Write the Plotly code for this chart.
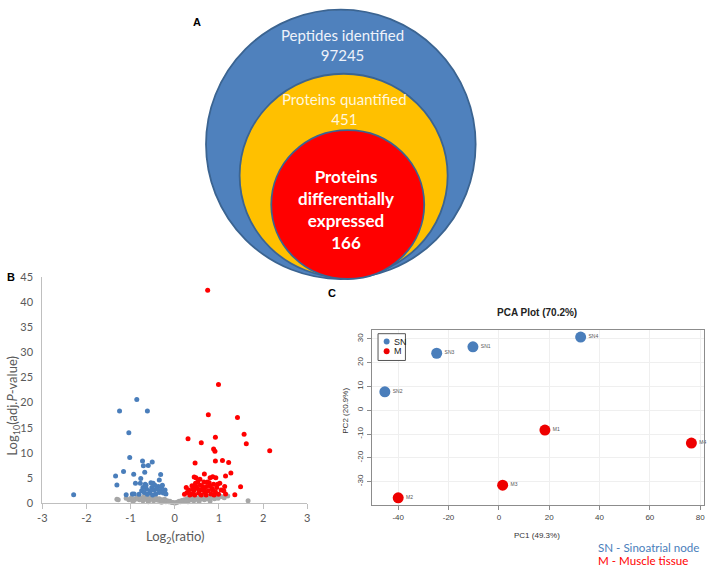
import plotly.graph_objects as go

W, H = 709, 572

# ---------------- data ----------------
venn_labels = ["Peptides identified", "Proteins quantified", "Proteins<br>differentially<br>expressed"]
venn_counts = [97245, 451, 166]

volcano_xticks = [-3, -2, -1, 0, 1, 2, 3]
volcano_xticktext = ["-3", "-2", "-1", "0", "1", "2", "3"]
volcano_yticks = [0, 5, 10, 15, 20, 25, 30, 35, 40, 45]

gray_x = [-1.31, -1.28, -1.10, -1.04, -0.98, -0.95, -0.92, -0.88, -0.84, -0.80,
          -0.76, -0.72, -0.70, -0.66, -0.62, -0.60, -0.58, -0.55, -0.52, -0.48,
          -0.45, -0.42, -0.38, -0.35, -0.32, -0.30, -0.29, -0.26, -0.23, -0.20,
          -0.17, -0.14, -0.11, -0.08, -0.05, -0.02, 0.01, 0.04, 0.07, 0.10,
          0.13, 0.16, 0.19, 0.22, 0.25, 0.28, 0.30, 0.31, 0.34, 0.37,
          0.40, 0.43, 0.46, 0.49, 0.52, 0.55, 0.55, 0.58, 0.61, 0.64,
          0.67, 0.70, 0.73, 0.76, 0.79, 0.80, 0.82, 0.86, 0.90, 0.94,
          0.98, 1.05, 1.12, 1.20, 1.66]
gray_y = [0.8, 0.7, 1.0, 0.7, 1.1, 0.4, 0.6, 0.9, 1.2, 0.7,
          1.0, 0.5, 1.3, 0.8, 1.1, 0.3, 0.6, 0.9, 1.2, 0.5,
          0.8, 1.0, 0.6, 0.9, 0.4, 0.2, 0.7, 0.5, 0.8, 0.3,
          0.5, 0.3, 0.4, 0.2, 0.15, 0.1, 0.05, 0.15, 0.25, 0.4,
          0.3, 0.55, 0.45, 0.7, 0.5, 0.9, 0.3, 0.6, 1.1, 0.7,
          1.0, 0.5, 1.2, 0.8, 1.0, 0.6, 0.35, 1.3, 0.9, 1.1,
          0.7, 1.2, 0.9, 1.3, 0.8, 0.45, 1.1, 1.4, 0.9, 1.2,
          1.0, 1.3, 1.1, 1.4, 0.5]

blue_x = [-2.29, -1.25, -0.86, -0.62, -1.04, -1.02, -0.73, -0.51, -0.71, -0.60,
          -1.16, -0.93, -0.68, -0.32, -1.34, -1.31, -0.77, -0.78, -0.89, -0.65,
          -0.54, -0.49, -0.35, -1.10, -0.96, -0.92, -0.75, -0.69, -0.64, -0.57,
          -0.52, -0.47, -0.43, -0.37, -0.32, -0.26, -0.22, -0.30, -0.41, -0.50,
          -0.62, -0.81, -0.72, -0.45, -0.35, -0.20, -0.67, -0.56, -0.28]
blue_y = [1.69, 18.3, 20.6, 18.3, 14.0, 9.07, 8.4, 8.2, 7.45, 7.5,
          6.3, 5.77, 6.15, 5.7, 5.38, 3.63, 4.9, 3.96, 3.96, 3.57,
          4.08, 3.96, 4.6, 1.69, 1.82, 1.82, 2.47, 2.14, 2.8, 2.02,
          3.1, 2.6, 1.82, 3.3, 2.47, 2.02, 2.6, 3.1, 2.8, 1.63,
          1.75, 1.75, 3.1, 3.57, 2.14, 1.82, 3.77, 2.47, 3.57]

red_x = [0.745, 0.99, 0.76, 1.42, 0.30, 0.60, 0.92, 1.57, 1.62, 0.88,
         0.91, 2.15, 0.46, 0.92, 1.08, 1.22, 1.27, 1.15, 0.67, 0.44,
         1.49, 1.36, 1.13, 1.11, 1.15, 0.86, 0.93, 0.80, 0.48, 0.57,
         0.26, 0.28, 0.32, 0.37, 0.39, 0.43, 0.47, 0.51, 0.54, 0.58,
         0.62, 0.66, 0.68, 0.72, 0.76, 0.78, 0.82, 0.84, 0.88, 0.92,
         0.95, 0.99, 1.02, 1.05, 0.22, 0.34, 0.45, 0.60, 0.71, 0.89,
         0.48, 0.63, 0.80, 0.67, 0.56, 0.41, 0.86, 0.97, 0.74, 0.52]
red_y = [42.3, 23.6, 17.55, 17.0, 12.8, 12.0, 13.1, 13.7, 11.8, 10.75,
         10.3, 10.4, 7.96, 8.4, 8.5, 8.1, 6.0, 5.4, 5.8, 5.2,
         3.24, 1.69, 3.3, 2.47, 1.82, 5.24, 5.05, 5.05, 5.05, 4.73,
         3.1, 2.14, 2.6, 1.82, 3.44, 2.47, 3.96, 2.91, 2.02, 3.57,
         2.6, 4.21, 2.14, 3.3, 2.47, 4.08, 1.82, 2.91, 3.77, 2.27,
         3.1, 1.75, 3.96, 2.6, 1.75, 1.63, 1.63, 1.63, 1.63, 1.63,
         3.3, 3.3, 3.44, 2.8, 2.6, 2.8, 2.6, 3.77, 4.21, 4.21]

pca_sn_names = ["SN1", "SN2", "SN3", "SN4"]
pca_sn_pc1 = [-10.3, -45.3, -24.7, 32.5]
pca_sn_pc2 = [26.7, 7.8, 24.0, 30.8]
pca_m_names = ["M1", "M2", "M3", "M4"]
pca_m_pc1 = [18.3, -40.0, 1.5, 76.5]
pca_m_pc2 = [-8.3, -36.8, -31.5, -13.8]
pca_xticks = [-40, -20, 0, 20, 40, 60, 80]
pca_xticktext = ["-40", "-20", "0", "20", "40", "60", "80"]
pca_yticks = [-30, -20, -10, 0, 10, 20, 30]
pca_yticktext = ["-30", "-20", "-10", "0", "10", "20", "30"]

# ---------------- helpers ----------------
def px(x):
    return x / W

def py(y):
    return 1 - y / H

BLUE = "#4a7ebb"
RED = "#ff0000"
GRAY = "#a6a6a6"
PCA_BLUE = "#4a7ebb"
PCA_RED = "#ee0000"
CAL = "Lato"
ARIAL = "Liberation Sans"

fig = go.Figure()

# volcano
for xs, ys, col in [(gray_x, gray_y, GRAY), (blue_x, blue_y, BLUE), (red_x, red_y, RED)]:
    fig.add_trace(go.Scatter(x=xs, y=ys, mode="markers", xaxis="x", yaxis="y",
                             marker=dict(size=5, color=col, line=dict(width=0)),
                             cliponaxis=False, showlegend=False, hoverinfo="skip"))

# PCA
for names, xs, ys, col in [(pca_sn_names, pca_sn_pc1, pca_sn_pc2, PCA_BLUE),
                           (pca_m_names, pca_m_pc1, pca_m_pc2, PCA_RED)]:
    fig.add_trace(go.Scatter(x=xs, y=ys, text=names, mode="markers+text", xaxis="x2", yaxis="y2",
                             textposition="middle right",
                             textfont=dict(size=5, color="#555555", family=ARIAL),
                             marker=dict(size=11, color=col, line=dict(width=0)),
                             cliponaxis=False, showlegend=False, hoverinfo="skip"))

# invisible trace so the venn axis exists
fig.add_trace(go.Scatter(x=[0], y=[0], xaxis="x3", yaxis="y3", mode="markers",
                         marker=dict(size=1, opacity=0), showlegend=False, hoverinfo="skip"))

tick_font_v = dict(family=CAL, size=11, color="#595959")
tick_font_p = dict(family=ARIAL, size=8, color="#444444")

fig.update_layout(
    width=W, height=H, margin=dict(l=0, r=0, t=0, b=0),
    paper_bgcolor="white", plot_bgcolor="rgba(0,0,0,0)", showlegend=False,
    xaxis=dict(domain=[px(37.7), px(305.7)], range=[-3, 3], tickvals=volcano_xticks,
               ticktext=volcano_xticktext,
               showline=True, linecolor="#bfbfbf", linewidth=1, ticks="outside", ticklen=5,
               tickcolor="#bfbfbf", showgrid=False, zeroline=False, tickfont=tick_font_v,
               anchor="y", fixedrange=True),
    yaxis=dict(domain=[py(507.7), py(276)], range=[0, 45], tickvals=volcano_yticks,
               showline=True, linecolor="#bfbfbf", linewidth=1, ticks="",
               showgrid=False, zeroline=False, tickfont=tick_font_v, ticklabelstandoff=6,
               anchor="x", fixedrange=True),
    xaxis2=dict(domain=[px(370.7), px(706.7)], range=[-50.6, 81.4], tickvals=pca_xticks,
                ticktext=pca_xticktext,
                showline=True, mirror=True, linecolor="#8c8c8c", linewidth=1, ticks="outside",
                ticklen=4, tickcolor="#8c8c8c", showgrid=True, gridcolor="#efefef", zeroline=False,
                tickfont=tick_font_p, anchor="y2", fixedrange=True),
    yaxis2=dict(domain=[py(510), py(330.7)], range=[-40, 33.7], tickvals=pca_yticks,
                ticktext=pca_yticktext,
                showline=True, mirror=True, linecolor="#8c8c8c", linewidth=1, ticks="outside",
                ticklen=4, tickcolor="#8c8c8c", showgrid=True, gridcolor="#efefef", zeroline=False,
                tickfont=tick_font_p, tickangle=-90, anchor="x2", fixedrange=True),
    xaxis3=dict(domain=[0, 1], range=[0, W], visible=False, anchor="y3", fixedrange=True),
    yaxis3=dict(domain=[py(286), 1], range=[286, 0], visible=False, anchor="x3", fixedrange=True),
)

# Venn circles (geometry in pixel units of the venn axis)
venn_geom = [
    dict(x0=203.3, x1=476.0, y0=2.7, y1=278.3, fill="#4f81bd"),
    dict(x0=237.3, x1=447.7, y0=68.3, y1=276.7, fill="#ffc000"),
    dict(x0=269.3, x1=424.0, y0=126.0, y1=278.3, fill="#ff0000"),
]
for g in venn_geom:
    fig.add_shape(type="circle", xref="x3", yref="y3", x0=g["x0"], x1=g["x1"], y0=g["y0"], y1=g["y1"],
                  fillcolor=g["fill"], line=dict(color="#3b6491", width=1.8))

ann = []
ann.append(dict(x=341, y=39.3, xref="x3", yref="y3",
                text=f"{venn_labels[0]}<br>{venn_counts[0]}",
                font=dict(family=CAL, size=15, color="#eef2fa")))
ann.append(dict(x=343, y=104.7, xref="x3", yref="y3",
                text=f"{venn_labels[1]}<br>{venn_counts[1]}",
                font=dict(family=CAL, size=15, color="#fff6dc")))
ann.append(dict(x=345, y=207.2, xref="x3", yref="y3",
                text=f"<b>{venn_labels[2]}<br>{venn_counts[2]}</b>",
                font=dict(family=CAL, size=17, color="white")))

# panel letters
for lab, x, y in [("A", 194.3, 15), ("B", 6, 276), ("C", 331, 293)]:
    ann.append(dict(x=px(x), y=py(y), xref="paper", yref="paper", text=f"<b>{lab}</b>",
                    font=dict(family=ARIAL, size=11, color="black")))

# volcano axis titles
ann.append(dict(x=px(171.7), y=py(542), xref="paper", yref="paper",
                text="Log<sub>2</sub>(ratio)", font=dict(family=CAL, size=13, color="#595959")))
ann.append(dict(x=px(8), y=py(408), xref="paper", yref="paper", textangle=-90,
                text="Log<sub>10</sub>(adj.<i>P</i>-value)", font=dict(family=CAL, size=13, color="#595959")))

# PCA title and axis titles
ann.append(dict(x=px(538.5), y=py(312.7), xref="paper", yref="paper",
                text="<b>PCA Plot (70.2%)</b>", font=dict(family=ARIAL, size=10, color="#222222")))
ann.append(dict(x=px(538.5), y=py(540.7), xref="paper", yref="paper",
                text="PC1 (49.3%)", font=dict(family=ARIAL, size=8, color="#333333")))
ann.append(dict(x=px(345), y=py(413), xref="paper", yref="paper", textangle=-90,
                text="PC2 (20.9%)", font=dict(family=ARIAL, size=8, color="#333333")))

# PCA legend text
ann.append(dict(x=px(391.5), y=py(342.3), xref="paper", yref="paper", xanchor="left",
                text="SN", font=dict(family=ARIAL, size=9, color="#222222")))
ann.append(dict(x=px(391.5), y=py(352.3), xref="paper", yref="paper", xanchor="left",
                text="M", font=dict(family=ARIAL, size=9, color="#222222")))

# group key under the PCA
ann.append(dict(x=px(598), y=py(553.5), xref="paper", yref="paper", xanchor="left",
                text="SN - Sinoatrial node", font=dict(family=CAL, size=11.6, color=BLUE)))
ann.append(dict(x=px(598), y=py(566.5), xref="paper", yref="paper", xanchor="left",
                text="M - Muscle tissue", font=dict(family=CAL, size=11.6, color=RED)))

for a in ann:
    a.setdefault("showarrow", False)
    a.setdefault("xanchor", "center")
    a.setdefault("yanchor", "middle")
fig.update_layout(annotations=ann)

# PCA legend box and bullets
fig.add_shape(type="rect", xref="paper", yref="paper", x0=px(377.3), x1=px(405), y0=py(361.7), y1=py(334.3),
              line=dict(color="#555555", width=1), fillcolor="white", layer="above")
for yc, col in [(342.3, PCA_BLUE), (352.3, PCA_RED)]:
    fig.add_shape(type="circle", xref="paper", yref="paper", x0=px(383), x1=px(389), y0=py(yc + 3), y1=py(yc - 3),
                  fillcolor=col, line=dict(width=0))

fig.write_html("out.html", config={"displayModeBar": False},
               post_script="document.body.style.margin='0';document.body.style.overflow='hidden';")
